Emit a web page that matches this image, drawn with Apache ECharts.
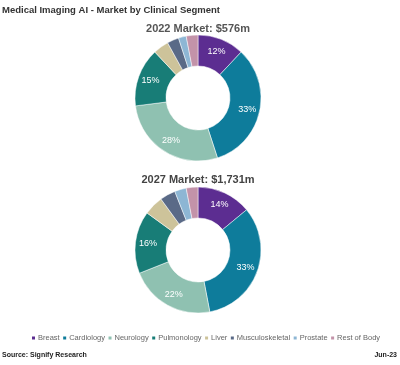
<!DOCTYPE html>
<html><head><meta charset="utf-8">
<script src="https://cdn.jsdelivr.net/npm/echarts@6/dist/echarts.min.js"></script>
<style>html,body{margin:0;padding:0;background:#fff}#c{width:400px;height:365px}</style>
</head><body><div id="c"></div>
<script>
var segments = ['Breast','Cardiology','Neurology','Pulmonology','Liver','Musculoskeletal','Prostate','Rest of Body'];
var share2022 = [12,33,28,15,4,3,2,3];
var share2027 = [14,33,22,16,5,4,3,3];
var colors = ['#5c2d91','#0e7c9b','#8fc1b1','#187d77','#cdc39a','#5a6a87','#8db6d4','#c393a9'];
var title2022 = '2022 Market: $576m';
var title2027 = '2027 Market: $1,731m';

function mk(vals){
  return segments.map(function(n,i){
    return {name:n, value:vals[i], label:{show: vals[i]>=10}};
  });
}
var font = '"Liberation Sans", Arial, sans-serif';
var chart = echarts.init(document.getElementById('c'));
chart.setOption({
  animation:false,
  color:colors,
  title:[
    {text:'Medical Imaging AI - Market by Clinical Segment', left:2, top:5, padding:0,
     textStyle:{fontSize:9.5, fontWeight:'bold', color:'#333', fontFamily:font}},
    {text:title2022, left:198, top:23, padding:0, textAlign:'center',
     textStyle:{fontSize:11, fontWeight:'bold', color:'#555', fontFamily:font}},
    {text:title2027, left:198, top:174, padding:0, textAlign:'center',
     textStyle:{fontSize:11, fontWeight:'bold', color:'#444', fontFamily:font}},
    {text:'Source: Signify Research', left:2, top:352, padding:0,
     textStyle:{fontSize:7, fontWeight:'bold', color:'#222', fontFamily:font}},
    {text:'Jun-23', right:3, top:352, padding:0,
     textStyle:{fontSize:7, fontWeight:'bold', color:'#222', fontFamily:font}}
  ],
  legend:{data:segments, top:334, left:30, itemWidth:5, itemHeight:5, itemGap:1.5,
    icon:'rect', padding:0, textStyle:{fontSize:7.5, color:'#666', fontFamily:font, padding:[0,0,0,-3]}},
  series:[
    {type:'pie', center:[198,98], radius:[32,63], startAngle:90, data:mk(share2022),
     label:{position:'inside', formatter:'{c}%', color:'#fff', fontSize:9, fontFamily:font},
     labelLine:{show:false}, itemStyle:{borderColor:'#fff', borderWidth:0.5}},
    {type:'pie', center:[198,250], radius:[32,63], startAngle:90, data:mk(share2027),
     label:{position:'inside', formatter:'{c}%', color:'#fff', fontSize:9, fontFamily:font},
     labelLine:{show:false}, itemStyle:{borderColor:'#fff', borderWidth:0.5}}
  ]
});
</script></body></html>
